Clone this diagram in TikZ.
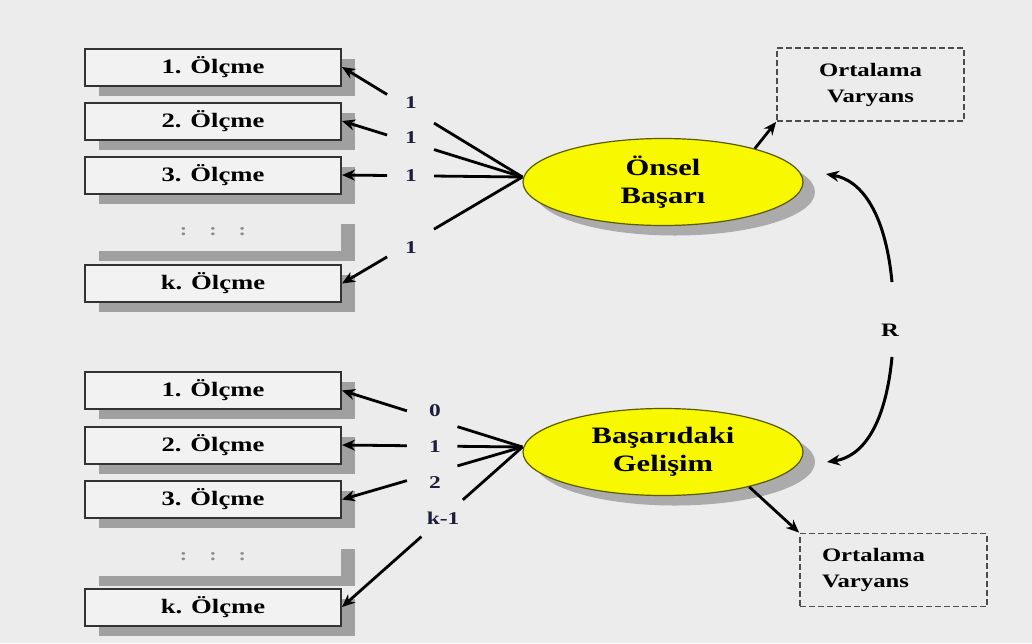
\documentclass[tikz,border=0pt]{standalone}
\usepackage{fontspec}
\setmainfont{Liberation Serif}[FakeStretch=1.3]
\usetikzlibrary{shapes.geometric,shadows,arrows.meta,calc}

\definecolor{bg}{RGB}{236,236,236}
\definecolor{boxfill}{RGB}{242,242,242}
\definecolor{shade}{RGB}{160,160,160}
\definecolor{latent}{RGB}{248,248,0}
\definecolor{latentline}{RGB}{90,90,0}
\definecolor{coef}{RGB}{30,30,60}

\tikzset{
  measure/.style={draw=black!80, line width=2pt, fill=boxfill,
    minimum width=256pt, minimum height=37pt, inner sep=0pt,
    font=\bfseries\fontsize{20.5}{24}\selectfont,
    drop shadow={shadow xshift=14pt, shadow yshift=-10pt, fill=shade, opacity=1}},
  gapbox/.style={fill=bg, minimum width=256pt, minimum height=37pt, inner sep=0pt,
    text=black!45, font=\bfseries\fontsize{17}{18}\selectfont,
    drop shadow={shadow xshift=14pt, shadow yshift=-10pt, fill=shade, opacity=1}},
  factor/.style={ellipse, draw=latentline, line width=1.2pt, fill=latent,
    minimum width=280pt, minimum height=87pt, inner sep=0pt, align=center,
    font=\bfseries\fontsize{23.5}{28}\selectfont,
    drop shadow={shadow xshift=12pt, shadow yshift=-10pt, fill=shade, opacity=0.85}},
  stats/.style={draw=black!70, dashed, dash pattern=on 6pt off 3pt, line width=1.8pt,
    minimum width=187pt, minimum height=73pt, inner sep=0pt,
    font=\bfseries\fontsize{19}{26}\selectfont},
  weight/.style={text=coef, font=\bfseries\fontsize{18}{20}\selectfont, inner sep=1pt},
  link/.style={line width=2.8pt, black},
  tip/.style={-{Stealth[length=13pt,width=11pt]}},
}

\begin{document}
\begin{tikzpicture}[x=1pt, y=-1pt]
  % canvas
  \fill[bg] (0,0) rectangle (1032,643);
  \useasboundingbox (0,0) rectangle (1032,643);

  % upper block of measurements
  \node[measure] (a1) at (213,67)    {1. Ölçme};
  \node[measure] (a2) at (213,121)   {2. Ölçme};
  \node[measure] (a3) at (213,175)   {3. Ölçme};
  \node[gapbox]  (ad) at (213,232)   {:\hspace{22pt}:\hspace{22pt}:};
  \node[measure] (ak) at (213,283.5) {k. Ölçme};

  % lower block of measurements
  \node[measure] (b1) at (213,390.5) {1. Ölçme};
  \node[measure] (b2) at (213,445)   {2. Ölçme};
  \node[measure] (b3) at (213,499.5) {3. Ölçme};
  \node[gapbox]  (bd) at (213,557)   {:\hspace{22pt}:\hspace{22pt}:};
  \node[measure] (bk) at (213,607)   {k. Ölçme};

  % latent factors
  \node[factor] (e1) at (663,182) {Önsel\\Başarı};
  \node[factor] (e2) at (663,452) {Başarıdaki\\Gelişim};

  % mean / variance boxes
  \node[stats, align=center] (o1) at (870.5,84.5) {Ortalama\\Varyans};
  \node[stats, align=left, text width=143pt, inner xsep=22pt] (o2) at (893.5,570) {Ortalama\\Varyans};

  % loadings
  \node[weight] (w1) at (411,103) {1};
  \node[weight] (w2) at (411,138) {1};
  \node[weight] (w3) at (411,176) {1};
  \node[weight] (wk) at (411,248) {1};
  \node[weight] (v1) at (435,411) {0};
  \node[weight] (v2) at (435,447) {1};
  \node[weight] (v3) at (435,483) {2};
  \node[weight] (vk) at (443,518) {k-1};
  \node[text=black, font=\bfseries\fontsize{19}{20}\selectfont] (r) at (890,330) {R};

  \coordinate (c1) at ($(e1.west)+(0,-5)$);
  \coordinate (c2) at ($(e2.west)+(0,-5)$);

  % loading paths, broken around the coefficients
  \foreach \t in {a1,a2,a3,ak}{
    \draw[link] (c1) -- ($(c1)!0.49!(\t.east)$);
    \draw[link,tip] ($(c1)!0.75!(\t.east)$) -- (\t.east);
  }
  \foreach \t in {b1,b2,b3}{
    \draw[link] (c2) -- ($(c2)!0.36!(\t.east)$);
    \draw[link,tip] ($(c2)!0.64!(\t.east)$) -- (\t.east);
  }
  \draw[link] (c2) -- ($(c2)!0.33!(bk.east)$);
  \draw[link,tip] ($(c2)!0.56!(bk.east)$) -- (bk.east);

  % factor to mean/variance
  \draw[link,tip] (e1.20) -- (o1.south west);
  \draw[link,tip] (e2.-22) -- (o2.north west);

  % correlation between the factors
  \coordinate (rt) at (892,282);
  \coordinate (rb) at (892,357);
  \coordinate (et) at (826,174);
  \coordinate (eb) at (827,462);
  \draw[link,tip, line width=3pt] (rt) .. controls (885,210) and (860,180) .. (et);
  \draw[link,tip, line width=3pt] (rb) .. controls (885,430) and (860,457) .. (eb);
\end{tikzpicture}
\end{document}
